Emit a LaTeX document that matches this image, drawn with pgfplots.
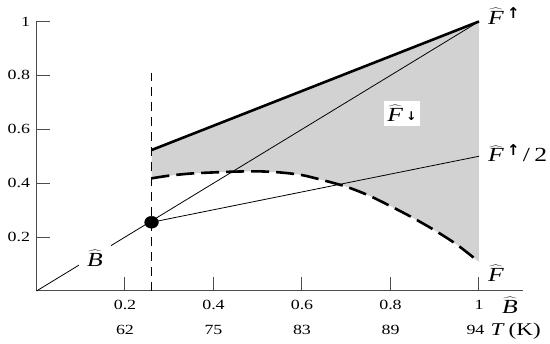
\documentclass[border=0pt]{standalone}
\usepackage{fontspec}
\usepackage{graphicx}
\setmainfont{Liberation Serif}
\newfontfamily\arr{DejaVu Sans}
\usepackage{pgfplots}
\pgfplotsset{compat=1.18}
\newcommand{\sx}[1]{\scalebox{1.28}[1]{#1}}
\newcommand{\Fh}{\sx{$\widehat{\textit{F}}$}}
\newcommand{\Bh}{\sx{$\widehat{\textit{B}}$}}
\newcommand{\up}{\raisebox{6pt}{\arr\bfseries\fontsize{15}{15}\selectfont ↑}}
\newcommand{\dn}{\raisebox{1pt}{\arr\bfseries\fontsize{12}{12}\selectfont ↓}}
\begin{document}
\begin{tikzpicture}
\begin{axis}[
  scale only axis, width=486.75pt, height=269.5pt,
  xmin=0, xmax=1.1, ymin=0, ymax=1,
  axis x line=bottom, axis y line=left,
  axis line style={-, black!70, line width=1pt},
  xtick={0.2,0.4,0.6,0.8,1}, ytick={0.2,0.4,0.6,0.8,1},
  xticklabels={{\sx{0.2}\\\sx{62}},{\sx{0.4}\\\sx{75}},{\sx{0.6}\\\sx{83}},{\sx{0.8}\\\sx{89}},{\sx{1}\\\sx{94}\hspace*{7pt}}},
  yticklabel={\sx{\pgfmathprintnumber{\tick}}},
  /pgf/number format/assume math mode=true,
  xticklabel style={align=center, font=\fontsize{14}{25}\selectfont, yshift=-6pt},
  yticklabel style={font=\fontsize{14}{16}\selectfont, xshift=-3pt},
  tick align=inside,
  major tick style={black!70, line width=1pt},
  major tick length=14pt,
  clip=false,
]
% shaded region
\addplot[fill=gray!35, draw=none] coordinates {
  (0.26,0.523) (1,1)
  (1.0,0.108) (0.95,0.172) (0.9,0.225) (0.85,0.272) (0.8,0.315) (0.75,0.355)
  (0.7,0.387) (0.65,0.41) (0.6,0.43) (0.55,0.44) (0.5,0.444) (0.45,0.443)
  (0.4,0.44) (0.35,0.436) (0.3,0.428) (0.26,0.418)
} -- cycle;
% vertical dashed line
\addplot[black, line width=0.9pt, dash pattern=on 9pt off 6pt] coordinates {(0.26,0) (0.26,0.81)};
% diagonal
\addplot[black, line width=0.8pt] coordinates {(0,0) (1,1)};
% thick upper line
\addplot[black, line width=2.6pt] coordinates {(0.26,0.523) (1,1)};
% half line
\addplot[black, line width=0.8pt] coordinates {(0.26,0.255) (1,0.5)};
% dashed curve
\addplot[black, line width=2.6pt, dash pattern=on 18pt off 7pt, smooth] coordinates {
  (0.26,0.418) (0.3,0.428) (0.35,0.436) (0.4,0.44) (0.45,0.443) (0.5,0.444)
  (0.55,0.44) (0.6,0.43) (0.65,0.41) (0.7,0.387) (0.75,0.355) (0.8,0.315)
  (0.85,0.272) (0.9,0.225) (0.95,0.172) (1.0,0.108)
};
% dot
\addplot[only marks, mark=*, mark size=6pt, mark options={xscale=1.15, fill=black}] coordinates {(0.26,0.255)};
% labels
\node[fill=white, inner sep=0pt, minimum width=32pt, minimum height=30pt, font=\fontsize{20}{22}\selectfont] at (axis cs:0.132,0.12) {\Bh};
\node[fill=white, inner xsep=3pt, inner ysep=4pt, font=\fontsize{20}{22}\selectfont] at (axis cs:0.826,0.659) {\Fh\,\dn};
\node[anchor=west, inner sep=0pt, font=\fontsize{20}{22}\selectfont] at (axis cs:1.02,1.02) {\Fh\,\up};
\node[anchor=west, inner sep=0pt, font=\fontsize{20}{22}\selectfont] at (axis cs:1.02,0.51) {\Fh\,\up\,\sx{/\,2}};
\node[anchor=west, inner sep=0pt, font=\fontsize{20}{22}\selectfont] at (axis cs:1.02,0.065) {\Fh};
\node[inner sep=0pt, font=\fontsize{20}{22}\selectfont] at (axis cs:1.07,0) [yshift=-14pt] {\Bh};
\node[inner sep=0pt, font=\fontsize{18}{20}\selectfont] at (axis cs:1.083,0) [yshift=-40pt] {\sx{\textit{T}\,(K)}};
\coordinate (O) at (axis cs:0,0);
\end{axis}
\pgfresetboundingbox
\path (O) ++(-36.5pt,-53pt) rectangle ++(550pt,344pt);
\end{tikzpicture}
\end{document}
